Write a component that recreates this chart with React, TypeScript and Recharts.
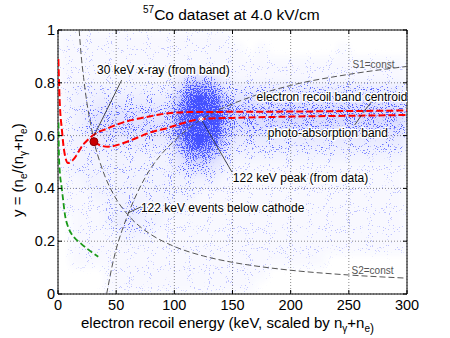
import {
    ComposedChart,
    XAxis,
    YAxis,
    CartesianGrid,
    Line,
    Scatter,
    ReferenceArea,
    ReferenceLine,
    Customized
} from 'recharts';

// axis ticks
const xTicks = [0, 50, 100, 150, 200, 250, 300];
const yTicks = [0, 0.2, 0.4, 0.6, 0.8, 1];

const densityRows: number[][] = [
    [1, 1, 1, 1, 1, 1, 1, 1, 1, 1, 1, 1, 1, 1, 1, 0, 0, 0, 0, 0, 0, 0, 0, 0, 0, 0, 0, 0, 0, 0],
    [1, 1, 1, 1, 1, 1, 1, 1, 1, 1, 1, 1, 1, 1, 1, 1, 0, 1, 0, 0, 0, 0, 0, 0, 1, 0, 0, 0, 0, 0],
    [1, 1, 1, 1, 1, 1, 1, 1, 1, 1, 1, 1, 1, 1, 1, 1, 1, 1, 1, 1, 1, 1, 1, 1, 1, 1, 1, 1, 1, 1],
    [1, 1, 1, 1, 1, 1, 1, 1, 1, 1, 2, 4, 4, 3, 2, 1, 1, 1, 1, 1, 1, 1, 1, 1, 1, 1, 1, 1, 1, 1],
    [1, 2, 2, 2, 2, 2, 2, 2, 2, 2, 4, 7, 7, 6, 3, 3, 3, 3, 3, 3, 3, 3, 3, 3, 3, 3, 3, 3, 3, 3],
    [1, 2, 2, 3, 3, 3, 3, 3, 3, 3, 6, 9, 9, 8, 5, 4, 4, 4, 4, 4, 4, 4, 4, 4, 4, 4, 4, 4, 4, 4],
    [1, 2, 3, 4, 4, 4, 4, 4, 4, 4, 7, 9, 9, 9, 6, 5, 5, 5, 5, 5, 5, 5, 5, 5, 5, 5, 5, 5, 5, 5],
    [1, 2, 3, 4, 4, 4, 4, 4, 4, 4, 7, 9, 9, 9, 5, 4, 4, 4, 4, 4, 4, 4, 4, 4, 4, 4, 4, 4, 4, 4],
    [1, 2, 2, 3, 3, 3, 3, 3, 3, 3, 6, 9, 9, 7, 4, 3, 3, 3, 3, 3, 3, 3, 3, 3, 3, 3, 3, 3, 3, 3],
    [1, 2, 2, 2, 2, 2, 2, 2, 2, 2, 4, 6, 6, 5, 3, 2, 2, 2, 2, 2, 2, 2, 2, 2, 2, 2, 2, 2, 2, 2],
    [1, 2, 2, 2, 2, 2, 2, 2, 2, 2, 3, 4, 4, 3, 2, 1, 1, 1, 1, 1, 1, 1, 1, 1, 1, 1, 1, 1, 1, 1],
    [1, 1, 2, 2, 2, 2, 2, 2, 2, 2, 2, 2, 2, 2, 1, 1, 1, 1, 1, 1, 1, 1, 1, 1, 1, 1, 1, 1, 1, 1],
    [1, 1, 1, 2, 2, 2, 2, 2, 2, 2, 2, 2, 1, 1, 1, 1, 1, 1, 1, 1, 1, 1, 1, 1, 1, 1, 1, 1, 1, 1],
    [1, 1, 1, 1, 2, 2, 3, 2, 2, 2, 2, 1, 1, 1, 1, 1, 1, 1, 1, 1, 1, 1, 1, 1, 1, 1, 1, 1, 1, 1],
    [0, 1, 1, 1, 2, 3, 3, 2, 2, 1, 1, 1, 1, 1, 1, 1, 1, 1, 1, 1, 1, 1, 1, 1, 1, 1, 1, 1, 1, 1],
    [0, 1, 1, 1, 1, 2, 2, 2, 1, 1, 1, 1, 1, 1, 1, 1, 1, 1, 1, 1, 1, 1, 1, 1, 1, 1, 1, 1, 1, 1],
    [0, 1, 1, 1, 1, 1, 1, 1, 1, 1, 1, 1, 1, 1, 1, 1, 1, 1, 1, 1, 1, 1, 1, 1, 1, 1, 1, 1, 1, 1],
    [0, 1, 1, 1, 1, 1, 1, 1, 1, 1, 1, 1, 1, 1, 1, 1, 1, 1, 1, 1, 1, 1, 1, 0, 0, 0, 0, 0, 0, 0],
    [0, 0, 0, 0, 1, 1, 1, 1, 1, 1, 1, 1, 1, 1, 1, 1, 1, 1, 0, 0, 0, 0, 0, 0, 0, 0, 0, 0, 0, 0],
    [0, 0, 0, 0, 1, 1, 1, 1, 1, 1, 1, 1, 1, 1, 1, 1, 1, 0, 0, 0, 0, 0, 0, 0, 0, 0, 0, 0, 0, 0]
];
const densityBinX = 10;
const densityBinY = 0.05;

// red: electron recoil band centroid
const erCentroid = [
    [0.3, 0.89], [1.4, 0.735], [3.4, 0.62], [5.2, 0.545], [8.6, 0.496], [12.9, 0.508],
    [21.5, 0.565], [28.6, 0.596], [43, 0.628], [56, 0.65], [71, 0.666], [85, 0.678],
    [95, 0.685], [113, 0.689], [150, 0.69], [200, 0.691], [250, 0.693], [300, 0.695]
];
// red: photo-absorption band
const photoBand = [
    [30.9, 0.577], [37, 0.562], [43, 0.558], [50, 0.563], [57, 0.573], [67, 0.59],
    [78, 0.61], [95, 0.63], [108, 0.648], [123, 0.663], [150, 0.667], [200, 0.672],
    [250, 0.675], [300, 0.678]
];
// green dashed curve
const greenCurve = [
    [0.4, 0.65], [0.8, 0.53], [1.6, 0.46], [3, 0.41], [4.3, 0.36], [6, 0.3], [8.6, 0.255],
    [12, 0.225], [16, 0.205], [20, 0.19], [25, 0.172], [30, 0.155], [34.6, 0.141]
];
// grey dashed: S2 = const
const s2Const = [
    [18.2, 1.0], [20, 0.9], [22, 0.82], [25, 0.72], [28, 0.645], [32, 0.56], [36, 0.5],
    [40, 0.45], [50, 0.36], [60, 0.3], [70, 0.257], [80, 0.225], [100, 0.18], [125, 0.144],
    [150, 0.12], [175, 0.103], [200, 0.09], [250, 0.072], [300, 0.06]
];
// grey dashed: S1 = const
const s1Const = [
    [41.8, 0], [44, 0.05], [46, 0.095], [50, 0.17], [55, 0.24], [60, 0.3], [70, 0.4],
    [80, 0.478], [90, 0.535], [100, 0.58], [125, 0.667], [150, 0.72], [200, 0.79],
    [250, 0.832], [300, 0.862]
];

const xrayPoint = [{ x: 30.9, y: 0.577 }];
const peakPoint = [{ x: 123, y: 0.663 }];

const annotationLabels = [
    { x: 33.5, y: 0.848, text: '30 keV x-ray (from band)' },
    { x: 170.7, y: 0.746, text: 'electron recoil band centroid' },
    { x: 180.4, y: 0.61, text: 'photo-absorption band' },
    { x: 150.3, y: 0.439, text: '122 keV peak (from data)' },
    { x: 71.3, y: 0.326, text: '122 keV events below cathode' }
];
const constLabels = [
    { x: 253.2, y: 0.87, text: 'S1=const' },
    { x: 252.3, y: 0.091, text: 'S2=const' }
];
// leader lines from the labels to the curves
const leaders = [
    [[54.7, 0.81], [31, 0.6]],
    [[269.5, 0.728], [262, 0.686]],
    [[261, 0.678], [255, 0.64]],
    [[123, 0.663], [149.5, 0.462]],
    [[60.1, 0.307], [71.3, 0.33]]
];

const toPoints = (arr: number[][]) => arr.map(([x, y]) => ({ x, y }));

const densityData = densityRows.flatMap((row, r) =>
    row
        .map((level, c) => ({
            x: c * densityBinX + densityBinX / 2,
            y: (densityRows.length - 1 - r) * densityBinY + densityBinY / 2,
            level
        }))
        .filter(d => d.level > 0)
);

const PLOT_W = 349;
const PLOT_H = 264;
const CELL_W = PLOT_W / 30;
const CELL_H = PLOT_H / 20;
const levelOpacity = [0, 0.07, 0.13, 0.2, 0.29, 0.4, 0.52, 0.66, 0.8, 0.92];
const FONT = '"Liberation Sans", Arial, Helvetica, sans-serif';

function DensityCell(props: any) {
    const { cx, cy, payload } = props;
    return (
        <rect
            x={cx - CELL_W / 2}
            y={cy - CELL_H / 2}
            width={CELL_W}
            height={CELL_H}
            fill="#1a28ff"
            fillOpacity={levelOpacity[payload.level]}
        />
    );
}

function XTick({ x, y, payload }: any) {
    return (
        <g>
            <line x1={x} y1={y} x2={x} y2={y - 4} stroke="#000" />
            <line x1={x} y1={y - PLOT_H} x2={x} y2={y - PLOT_H + 4} stroke="#000" />
            <text x={x} y={y + 16} textAnchor="middle" fontSize={14.5} fontFamily={FONT} fill="#000">
                {payload.value}
            </text>
        </g>
    );
}

function YTick({ x, y, payload }: any) {
    return (
        <g>
            <line x1={x} y1={y} x2={x + 4} y2={y} stroke="#000" />
            <line x1={x + PLOT_W} y1={y} x2={x + PLOT_W - 4} y2={y} stroke="#000" />
            <text x={x - 3} y={y + 5} textAnchor="end" fontSize={14.5} fontFamily={FONT} fill="#000">
                {payload.value}
            </text>
        </g>
    );
}

function AnnotationText(props: any) {
    const { cx, cy, payload } = props;
    return (
        <text
            x={cx}
            y={cy + 4}
            fontSize={12}
            fontFamily={FONT}
            fill="#000"
            stroke="#fff"
            strokeWidth={2.5}
            strokeLinejoin="round"
            paintOrder="stroke"
        >
            {payload.text}
        </text>
    );
}

function ConstText(props: any) {
    const { cx, cy, payload } = props;
    return (
        <text x={cx} y={cy + 4} fontSize={10} fontFamily={FONT} fill="#555">
            {payload.text}
        </text>
    );
}

function XrayDot(props: any) {
    const { cx, cy } = props;
    return <circle cx={cx} cy={cy} r={4} fill="#c80000" stroke="#8a0000" strokeWidth={1} />;
}

function PeakStar(props: any) {
    const { cx, cy } = props;
    return (
        <g stroke="#fff" strokeWidth={1}>
            <line x1={cx - 3} y1={cy} x2={cx + 3} y2={cy} />
            <line x1={cx} y1={cy - 3} x2={cx} y2={cy + 3} />
            <line x1={cx - 2} y1={cy - 2} x2={cx + 2} y2={cy + 2} />
            <line x1={cx - 2} y1={cy + 2} x2={cx + 2} y2={cy - 2} />
        </g>
    );
}

function Titles() {
    return (
        <g fontFamily={FONT} fill="#000">
            <text x={143} y={20} fontSize={15.5}>
                <tspan fontSize={10} dy={-7}>57</tspan>
                <tspan dy={7}>Co dataset at 4.0 kV/cm</tspan>
            </text>
            <text x={81} y={328} fontSize={15}>
                electron recoil energy (keV, scaled by n
                <tspan fontSize={10} dy={4}>γ</tspan>
                <tspan dy={-4}>+n</tspan>
                <tspan fontSize={10} dy={4}>e</tspan>
                <tspan fontSize={12}>)</tspan>
            </text>
            <text x={23} y={217} fontSize={15} transform="rotate(-90 23 217)">
                y = (n
                <tspan fontSize={10} dy={4}>e</tspan>
                <tspan dy={-4}>/(n</tspan>
                <tspan fontSize={10} dy={4}>γ</tspan>
                <tspan dy={-4}>+n</tspan>
                <tspan fontSize={10} dy={4}>e</tspan>
                <tspan dy={-4}>)</tspan>
            </text>
        </g>
    );
}

export default function App() {
    return (
        <div style={{ width: 450, height: 338, background: '#fff' }}>
            <style>{'body{margin:0} .density{filter:url(#densSpeckle);clip-path:url(#plotClip)}'}</style>
            <svg width={0} height={0} style={{ position: 'absolute' }}>
                <defs>
                    {/* blur the density cells, then dither them into speckles */}
                    <filter id="densSpeckle" x="-5%" y="-5%" width="110%" height="110%" colorInterpolationFilters="sRGB">
                        <feGaussianBlur in="SourceGraphic" stdDeviation="4" result="smooth" />
                        <feTurbulence type="fractalNoise" baseFrequency="0.95" numOctaves="1" seed="4" result="noise" />
                        <feColorMatrix in="noise" type="matrix"
                            values="0 0 0 0 0  0 0 0 0 0  0 0 0 0 0  2.5 0 0 0 -0.75" result="noiseA" />
                        <feComposite in="smooth" in2="noiseA" operator="arithmetic" k1="0" k2="5" k3="-5" k4="0" result="mask" />
                        <feFlood floodColor="#2233ff" floodOpacity="0.75" result="blue" />
                        <feComposite in="blue" in2="mask" operator="in" result="dots" />
                        <feComponentTransfer in="smooth" result="wash">
                            <feFuncA type="linear" slope="0.45" />
                        </feComponentTransfer>
                        <feMerge>
                            <feMergeNode in="wash" />
                            <feMergeNode in="dots" />
                        </feMerge>
                    </filter>
                    <clipPath id="plotClip" clipPathUnits="userSpaceOnUse">
                        <rect x={58} y={30} width={PLOT_W} height={PLOT_H} />
                    </clipPath>
                </defs>
            </svg>
            <ComposedChart width={450} height={338} margin={{ top: 30, right: 43, bottom: 24, left: 28 }}>
                <XAxis
                    type="number"
                    dataKey="x"
                    domain={[0, 300]}
                    ticks={xTicks}
                    height={20}
                    tickSize={0}
                    tickMargin={0}
                    axisLine={false}
                    tickLine={false}
                    tick={<XTick />}
                    allowDataOverflow
                />
                <YAxis
                    type="number"
                    dataKey="y"
                    domain={[0, 1]}
                    ticks={yTicks}
                    width={30}
                    tickSize={0}
                    tickMargin={0}
                    axisLine={false}
                    tickLine={false}
                    tick={<YTick />}
                    allowDataOverflow
                />
                <Scatter data={densityData} className="density" shape={<DensityCell />} zIndex={50}
                    isAnimationActive={false} />
                <CartesianGrid stroke="#8a8a8a" strokeDasharray="1 2" />

                <Line data={toPoints(s2Const)} dataKey="y" type="monotone" stroke="#555" strokeWidth={1}
                    strokeDasharray="6 3" dot={false} isAnimationActive={false} />
                <Line data={toPoints(s1Const)} dataKey="y" type="monotone" stroke="#555" strokeWidth={1}
                    strokeDasharray="6 3" dot={false} isAnimationActive={false} />
                <Line data={toPoints(greenCurve)} dataKey="y" type="monotone" stroke="#1a9a1a" strokeWidth={1.8}
                    strokeDasharray="6 3" dot={false} isAnimationActive={false} />
                <Line data={toPoints(erCentroid)} dataKey="y" type="monotone" stroke="#ff0000" strokeWidth={2}
                    strokeDasharray="7 3" dot={false} isAnimationActive={false} />
                <Line data={toPoints(photoBand)} dataKey="y" type="monotone" stroke="#ff0000" strokeWidth={2}
                    strokeDasharray="7 3" dot={false} isAnimationActive={false} />

                {leaders.map(([a, b], i) => (
                    <ReferenceLine
                        key={i}
                        segment={[{ x: a[0], y: a[1] }, { x: b[0], y: b[1] }]}
                        stroke="#222"
                        strokeWidth={0.8}
                    />
                ))}

                <Scatter data={xrayPoint} shape={<XrayDot />} isAnimationActive={false} />
                <Scatter data={peakPoint} shape={<PeakStar />} isAnimationActive={false} />
                <Scatter data={annotationLabels} shape={<AnnotationText />} isAnimationActive={false} />
                <Scatter data={constLabels} shape={<ConstText />} isAnimationActive={false} />

                <ReferenceArea x1={0} x2={300} y1={0} y2={1} fill="none" stroke="#000" strokeWidth={1} />
                <Customized component={Titles} />
            </ComposedChart>
        </div>
    );
}
